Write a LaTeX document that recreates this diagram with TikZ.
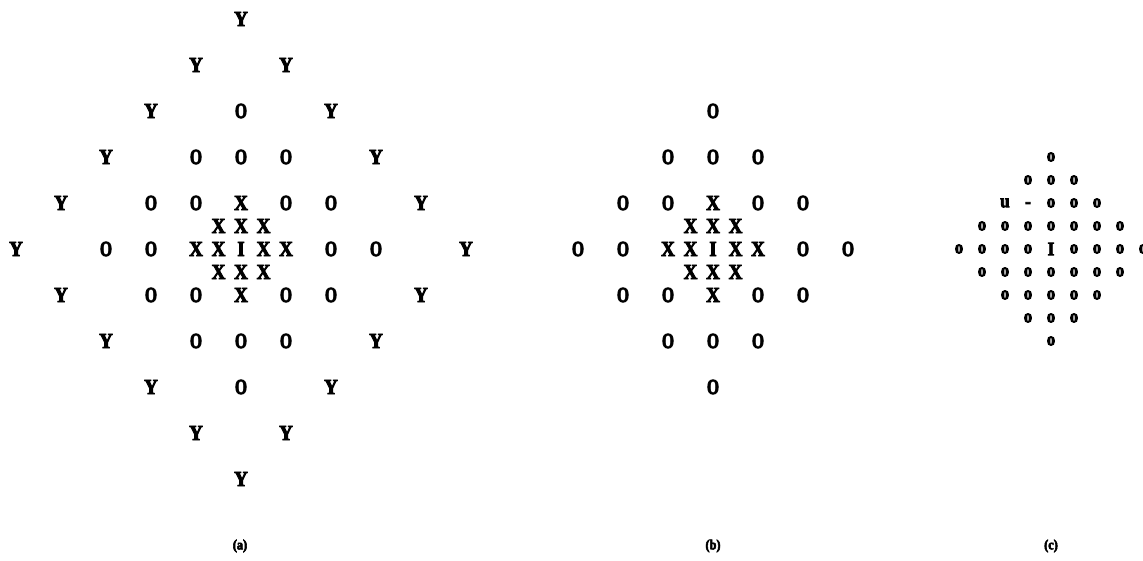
\documentclass[tikz,border=0pt]{standalone}
\usepackage{fontspec}
\setmainfont{Liberation Serif}
\newfontfamily\heavy{Liberation Serif}[FakeStretch=0.88, FakeBold=4]
\usepackage{graphicx}
\tikzset{
  big/.style={inner sep=0pt, font=\heavy\bfseries\fontsize{21.5}{21.5}\selectfont},
  small/.style={inner sep=0pt, font=\heavy\bfseries\fontsize{19}{19}\selectfont},
  caplabel/.style={inner sep=0pt, font=\heavy\bfseries\fontsize{14}{14}\selectfont},
}
\newcommand\Oh{\scalebox{0.82}[1]{O}}
\begin{document}
\begin{tikzpicture}[x=1pt,y=1pt]
\useasboundingbox (0,0) rectangle (1143,561);
% ---------- panel (a)
\begin{scope}[shift={(241pt,312pt)}, x=45pt, y=46pt]
  \foreach \i in {-5,...,5}{\foreach \j in {-5,...,5}{
    \pgfmathtruncatemacro\d{abs(\i)+abs(\j)}
    \ifnum\d=5 \node[big] (aY_\i_\j) at (\i,\j) {Y};\fi
    \ifnum\d>1 \ifnum\d<4 \node[big] (aO_\i_\j) at (\i,\j) {\Oh};\fi\fi
    \ifnum\d=1 \node[big] (aX_\i_\j) at (\i,\j) {X};\fi
  }}
  \node[big] (aI) at (0,0) {I};
  \foreach \p/\q [count=\k] in {-0.5/0, 0.5/0, -0.5/0.5, 0/0.5, 0.5/0.5, -0.5/-0.5, 0/-0.5, 0.5/-0.5}
    \node[big] (aXi\k) at (\p,\q) {X};
\end{scope}
% ---------- panel (b)
\begin{scope}[shift={(713pt,312pt)}, x=45pt, y=46pt]
  \foreach \i in {-3,...,3}{\foreach \j in {-3,...,3}{
    \pgfmathtruncatemacro\d{abs(\i)+abs(\j)}
    \ifnum\d>1 \ifnum\d<4 \node[big] (bO_\i_\j) at (\i,\j) {\Oh};\fi\fi
    \ifnum\d=1 \node[big] (bX_\i_\j) at (\i,\j) {X};\fi
  }}
  \node[big] (bI) at (0,0) {I};
  \foreach \p/\q [count=\k] in {-0.5/0, 0.5/0, -0.5/0.5, 0/0.5, 0.5/0.5, -0.5/-0.5, 0/-0.5, 0.5/-0.5}
    \node[big] (bXi\k) at (\p,\q) {X};
\end{scope}
% ---------- panel (c)
\begin{scope}[shift={(1051pt,312pt)}, x=23pt, y=23pt]
  \foreach \i in {-4,...,4}{\foreach \j in {-4,...,4}{
    \pgfmathtruncatemacro\d{abs(\i)+abs(\j)}
    \pgfmathtruncatemacro\sk{and(or(\i==-2,\i==-1),\j==2)}
    \ifnum\sk=0
      \ifnum\d>0 \ifnum\d<5 \node[small] (cO_\i_\j) at (\i,\j) {o};\fi\fi
    \fi
  }}
  \node[small] (cI) at (0,0) {I};
  \node[small] (cU) at (-2,2) {u};
  \node[small, yshift=-2pt] (cD) at (-1,2) {-};
\end{scope}
% ---------- captions
\node[caplabel] (capa) at (240,15) {(a)};
\node[caplabel] (capb) at (713,15) {(b)};
\node[caplabel] (capc) at (1051,15) {(c)};
\end{tikzpicture}
\end{document}
